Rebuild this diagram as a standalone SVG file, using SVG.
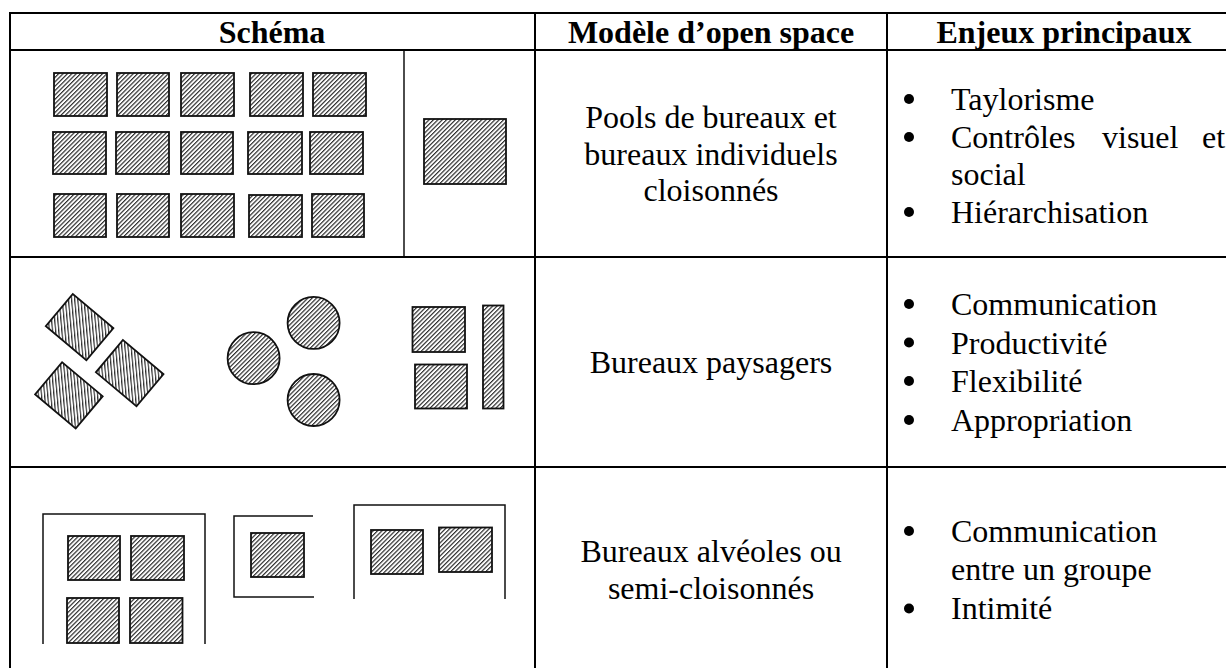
<svg xmlns="http://www.w3.org/2000/svg" width="1226" height="668" viewBox="0 0 1226 668">
  <defs>
    <!-- upward diagonal hatch used for every desk -->
    <pattern id="hatch" patternUnits="userSpaceOnUse" width="3.1" height="3.1" patternTransform="rotate(45)">
      <rect width="3.1" height="3.1" fill="#ffffff"/>
      <line x1="0.6" y1="0" x2="0.6" y2="3.1" stroke="#262626" stroke-width="1.15"/>
    </pattern>
  </defs>
  <style>
    .grid { stroke: #000; stroke-width: 2; fill: none; }
    .thin { stroke: #000; stroke-width: 1.4; fill: none; }
    .desk { fill: url(#hatch); stroke: #111; stroke-width: 1.8; }
    .wall { fill: none; stroke: #111; stroke-width: 1.5; }
    .head { font-family: "Liberation Serif", "Times New Roman", serif; font-size: 32px; font-weight: bold; fill: #000; text-anchor: middle; }
    .cell { font-family: "Liberation Serif", "Times New Roman", serif; font-size: 32px; fill: #000; text-anchor: middle; }
    .item { font-family: "Liberation Serif", "Times New Roman", serif; font-size: 32px; fill: #000; }
    .dot { fill: #000; }
  </style>
  <rect width="1226" height="668" fill="#ffffff"/>

  <!-- table rules -->
  <g id="table-grid">
    <line class="grid" x1="9" y1="13" x2="1240" y2="13"/>
    <line class="grid" x1="9" y1="50" x2="1240" y2="50"/>
    <line class="grid" x1="9" y1="257" x2="1240" y2="257"/>
    <line class="grid" x1="9" y1="467" x2="1240" y2="467"/>
    <line class="grid" x1="10" y1="12" x2="10" y2="680"/>
    <line class="grid" x1="535" y1="12" x2="535" y2="680"/>
    <line class="grid" x1="887" y1="12" x2="887" y2="680"/>
    <line class="thin" x1="404" y1="50" x2="404" y2="257"/>
  </g>

  <!-- header row -->
  <g id="header">
    <text class="head" x="272" y="43">Schéma</text>
    <text class="head" x="711" y="43">Modèle d’open space</text>
    <text class="head" x="1064" y="43">Enjeux principaux</text>
  </g>

  <!-- row 1: pooled desks and one partitioned office -->
  <g id="pool-desks">
    <rect class="desk" x="54" y="73" width="53" height="43"/>
    <rect class="desk" x="117" y="73" width="52" height="43"/>
    <rect class="desk" x="181" y="73" width="53" height="43"/>
    <rect class="desk" x="250" y="73" width="53" height="43"/>
    <rect class="desk" x="313" y="73" width="53" height="43"/>
    <rect class="desk" x="53" y="132" width="53" height="42"/>
    <rect class="desk" x="116" y="132" width="53" height="42"/>
    <rect class="desk" x="181" y="132" width="52" height="42"/>
    <rect class="desk" x="248" y="132" width="54" height="42"/>
    <rect class="desk" x="310" y="132" width="53" height="42"/>
    <rect class="desk" x="54" y="194" width="52" height="43"/>
    <rect class="desk" x="117" y="194" width="52" height="43"/>
    <rect class="desk" x="181" y="194" width="53" height="43"/>
    <rect class="desk" x="249" y="195" width="53" height="42"/>
    <rect class="desk" x="312" y="194" width="52" height="43"/>
  </g>
  <g id="single-office">
    <rect class="desk" x="424" y="119" width="82" height="65"/>
  </g>
  <g id="model-pools">
    <text class="cell" x="711" y="128">Pools de bureaux et</text>
    <text class="cell" x="711" y="165">bureaux individuels</text>
    <text class="cell" x="711" y="201">cloisonnés</text>
  </g>
  <g id="issues-pools">
    <circle class="dot" cx="909" cy="99" r="5"/>
    <text class="item" x="951" y="109.5">Taylorisme</text>
    <circle class="dot" cx="909" cy="137" r="5"/>
    <text class="item" y="147.5"><tspan x="951">Contrôles</tspan><tspan x="1102">visuel</tspan><tspan x="1202">et</tspan></text>
    <text class="item" x="951" y="185">social</text>
    <circle class="dot" cx="909" cy="212" r="5"/>
    <text class="item" x="951" y="222.5">Hiérarchisation</text>
  </g>

  <!-- row 2: landscape office -->
  <g id="angled-desks">
    <rect class="desk" x="-21" y="-26.5" width="42" height="53" transform="translate(79.6 327.1) rotate(-50)"/>
    <rect class="desk" x="-21" y="-26.5" width="42" height="53" transform="translate(129.7 373.2) rotate(-50)"/>
    <rect class="desk" x="-21" y="-26.5" width="42" height="53" transform="translate(68.9 395.3) rotate(-50)"/>
  </g>
  <g id="round-tables">
    <circle class="desk" cx="253.6" cy="358.2" r="26"/>
    <circle class="desk" cx="313.6" cy="322.9" r="26"/>
    <circle class="desk" cx="313.6" cy="400" r="26"/>
  </g>
  <g id="desk-cluster">
    <rect class="desk" x="412.5" y="307" width="52.5" height="45"/>
    <rect class="desk" x="415" y="364.5" width="52" height="44"/>
    <rect class="desk" x="483" y="305.5" width="20.5" height="103"/>
  </g>
  <g id="model-landscape">
    <text class="cell" x="711" y="373">Bureaux paysagers</text>
  </g>
  <g id="issues-landscape">
    <circle class="dot" cx="909" cy="304" r="5"/>
    <text class="item" x="951" y="315">Communication</text>
    <circle class="dot" cx="909" cy="342.5" r="5"/>
    <text class="item" x="951" y="353.5">Productivité</text>
    <circle class="dot" cx="909" cy="381" r="5"/>
    <text class="item" x="951" y="392">Flexibilité</text>
    <circle class="dot" cx="909" cy="420" r="5"/>
    <text class="item" x="951" y="431">Appropriation</text>
  </g>

  <!-- row 3: cubicles with low partitions -->
  <g id="cubicle-four">
    <path class="wall" d="M43 644 V514 H205 V644"/>
    <rect class="desk" x="68" y="536" width="52" height="44"/>
    <rect class="desk" x="131" y="536" width="53" height="44"/>
    <rect class="desk" x="67" y="598" width="52" height="45"/>
    <rect class="desk" x="130" y="598" width="52.5" height="45"/>
  </g>
  <g id="cubicle-one">
    <path class="wall" d="M313 516 H234 V597 H314"/>
    <rect class="desk" x="251" y="533" width="53" height="44"/>
  </g>
  <g id="cubicle-two">
    <path class="wall" d="M354 599 V505 H505 V599"/>
    <rect class="desk" x="371" y="530" width="52" height="44"/>
    <rect class="desk" x="439" y="527.5" width="53" height="44.5"/>
  </g>
  <g id="model-cubicles">
    <text class="cell" x="711" y="561.5">Bureaux alvéoles ou</text>
    <text class="cell" x="711" y="599">semi-cloisonnés</text>
  </g>
  <g id="issues-cubicles">
    <circle class="dot" cx="909" cy="531" r="5"/>
    <text class="item" x="951" y="541.5">Communication</text>
    <text class="item" x="951" y="580">entre un groupe</text>
    <circle class="dot" cx="909" cy="608.5" r="5"/>
    <text class="item" x="951" y="619">Intimité</text>
  </g>
</svg>
